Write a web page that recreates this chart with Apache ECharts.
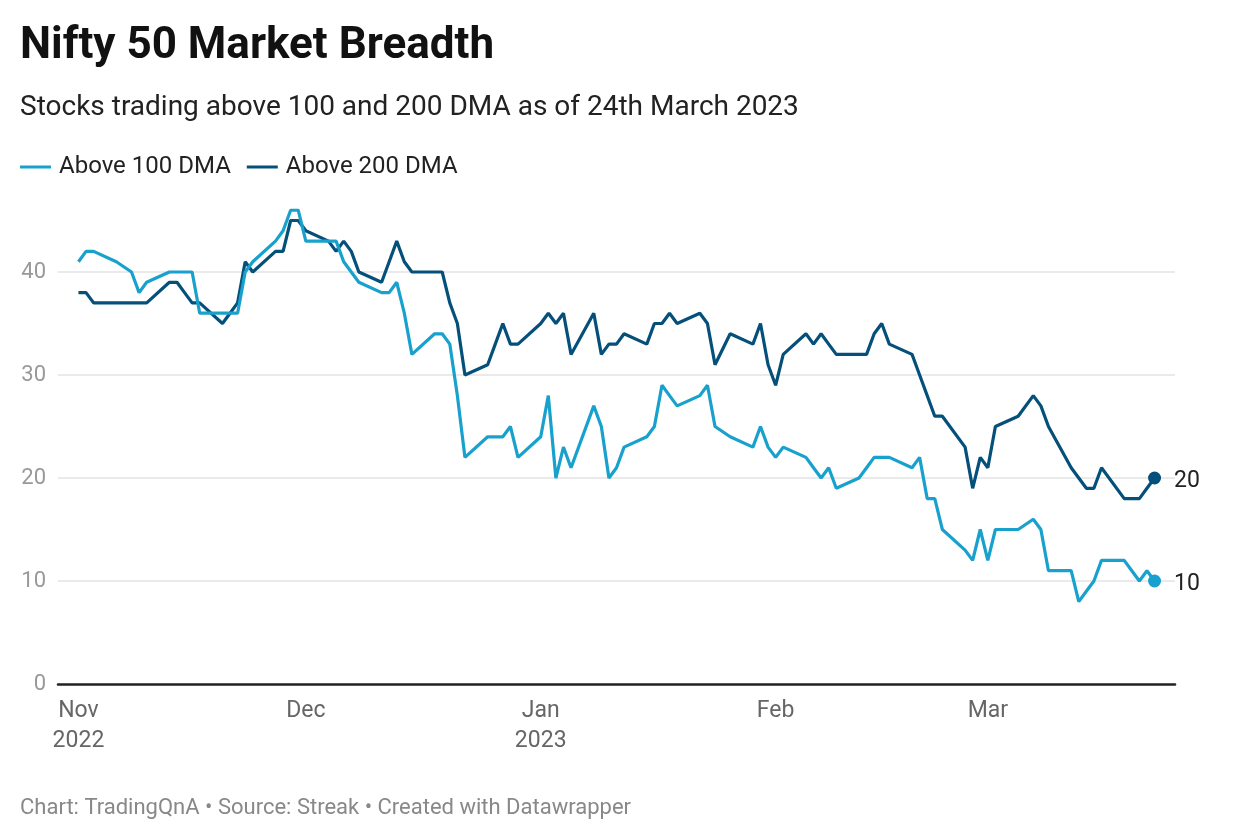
<!DOCTYPE html>
<html><head><meta charset="utf-8">
<script src="https://cdn.jsdelivr.net/npm/echarts@6/dist/echarts.min.js"></script>
<style>html,body{margin:0;padding:0;background:#fff}#chart{width:1240px;height:840px}</style>
</head><body><div id="chart"></div>
<script>
// Trading days shown in the chart
const dates = [
  '2022-11-02','2022-11-03','2022-11-04','2022-11-07','2022-11-09','2022-11-10','2022-11-11','2022-11-14','2022-11-15','2022-11-16','2022-11-17','2022-11-18','2022-11-21','2022-11-22','2022-11-23','2022-11-24','2022-11-25','2022-11-28','2022-11-29','2022-11-30',
  '2022-12-01','2022-12-02','2022-12-05','2022-12-06','2022-12-07','2022-12-08','2022-12-09','2022-12-12','2022-12-13','2022-12-14','2022-12-15','2022-12-16','2022-12-19','2022-12-20','2022-12-21','2022-12-22','2022-12-23','2022-12-26','2022-12-27','2022-12-28','2022-12-29','2022-12-30',
  '2023-01-02','2023-01-03','2023-01-04','2023-01-05','2023-01-06','2023-01-09','2023-01-10','2023-01-11','2023-01-12','2023-01-13','2023-01-16','2023-01-17','2023-01-18','2023-01-19','2023-01-20','2023-01-23','2023-01-24','2023-01-25','2023-01-27','2023-01-30','2023-01-31',
  '2023-02-01','2023-02-02','2023-02-03','2023-02-06','2023-02-07','2023-02-08','2023-02-09','2023-02-10','2023-02-13','2023-02-14','2023-02-15','2023-02-16','2023-02-17','2023-02-20','2023-02-21','2023-02-22','2023-02-23','2023-02-24','2023-02-27','2023-02-28',
  '2023-03-01','2023-03-02','2023-03-03','2023-03-06','2023-03-08','2023-03-09','2023-03-10','2023-03-13','2023-03-14','2023-03-15','2023-03-16','2023-03-17','2023-03-20','2023-03-21','2023-03-22','2023-03-23','2023-03-24'
];
const above100 = [
  41,42,42,41,40,38,39,40,40,40,40,36,36,36,36,40,41,43,44,46,
  46,43,43,43,41,40,39,38,38,39,36,32,34,34,33,28,22,24,24,24,25,22,
  24,28,20,23,21,27,25,20,21,23,24,25,29,28,27,28,29,25,24,23,25,
  23,22,23,22,21,20,21,19,20,21,22,22,22,21,22,18,18,15,13,12,
  15,12,15,15,16,15,11,11,8,9,10,12,12,11,10,11,10
];
const above200 = [
  38,38,37,37,37,37,37,39,39,38,37,37,35,36,37,41,40,42,42,45,
  45,44,43,42,43,42,40,39,41,43,41,40,40,40,37,35,30,31,33,35,33,33,
  35,36,35,36,32,36,32,33,33,34,33,35,35,36,35,36,35,31,34,33,35,
  31,29,32,34,33,34,33,32,32,32,34,35,33,32,30,28,26,26,23,19,
  22,21,25,26,28,27,25,21,20,19,19,21,18,18,18,19,20
];
const seriesNames = ['Above 100 DMA','Above 200 DMA'];
const seriesColors = ['#18a1cd','#05507a'];
const tickDates = ['2022-11-02','2022-12-02','2023-01-02','2023-02-02','2023-03-02'];
const tickLabels = ['Nov\n2022','Dec','Jan\n2023','Feb','Mar'];
const yTicks = [0,10,20,30,40];

const DAY = 86400000;
function ts(s){ const p = s.split('-').map(Number); return Date.UTC(p[0], p[1]-1, p[2]); }
const tickTs = tickDates.map(ts);
function build(vals){
  return vals.map((v,i)=>{
    const pt = [ts(dates[i]), v];
    if (i === vals.length - 1) return {value: pt, symbol: 'circle', symbolSize: 13, label: {show: true}};
    return pt;
  });
}
const FONT = 'Roboto';
const chart = echarts.init(document.getElementById('chart'), null, {renderer: 'canvas'});
chart.setOption({
  animation: false,
  backgroundColor: '#fff',
  title: [
    {text: 'Nifty 50 Market Breadth', left: 20, top: 22, padding: 0,
     textStyle: {fontSize: 44, fontWeight: 'bold', color: '#111', fontFamily: FONT, lineHeight: 50}},
    {text: 'Stocks trading above 100 and 200 DMA as of 24th March 2023', left: 20, top: 92, padding: 0,
     textStyle: {fontSize: 28, fontWeight: 'normal', color: '#222', fontFamily: FONT, lineHeight: 32}},
    {text: 'Chart: TradingQnA • Source: Streak • Created with Datawrapper', left: 20, top: 795, padding: 0,
     textStyle: {fontSize: 22, fontWeight: 'normal', color: '#888', fontFamily: FONT, lineHeight: 26}}
  ],
  legend: {
    data: seriesNames, left: 20, top: 153, padding: 0, icon: 'rect', itemWidth: 31, itemHeight: 3, itemGap: 16,
    textStyle: {fontSize: 24, color: '#222', fontFamily: FONT, lineHeight: 28, padding: [0,0,0,3]}
  },
  grid: {left: 58, right: 65, top: 684 - 46*10.3, bottom: 156, containLabel: false, outerBoundsMode: 'none'},
  xAxis: {
    type: 'value',
    min: ts(dates[0]) - 2.7*DAY,
    max: ts(dates[dates.length-1]) + 2.7*DAY,
    axisLine: {show: true, onZero: false, lineStyle: {color: '#222', width: 2.5}},
    axisTick: {show: false},
    splitLine: {show: false},
    axisLabel: {
      customValues: tickTs,
      formatter: function(v){
        let best = 0, bd = Infinity;
        tickTs.forEach((t,i)=>{ const d = Math.abs(t - v); if (d < bd){ bd = d; best = i; } });
        return tickLabels[best];
      },
      color: '#666', fontSize: 23, lineHeight: 30, margin: 12, fontFamily: FONT
    }
  },
  yAxis: {
    type: 'value', min: 0, max: 46, interval: 10,
    axisLine: {show: false}, axisTick: {show: false},
    axisLabel: {customValues: yTicks, color: '#999', fontSize: 22, margin: 12, fontFamily: FONT},
    splitLine: {show: true, showMinLine: false, showMaxLine: false, lineStyle: {color: '#e3e3e3', width: 1.5}}
  },
  series: [above100, above200].map((vals, k) => ({
    name: seriesNames[k], type: 'line', data: build(vals), symbol: 'none',
    color: seriesColors[k],
    lineStyle: {width: 3.2, color: seriesColors[k]},
    itemStyle: {color: seriesColors[k]},
    label: {position: 'right', distance: 13, offset: [0, 3], fontSize: 23, color: '#222', fontFamily: FONT,
            formatter: p => String(p.value[1])},
    emphasis: {disabled: true},
    z: k === 0 ? 3 : 2
  }))
});
</script></body></html>
